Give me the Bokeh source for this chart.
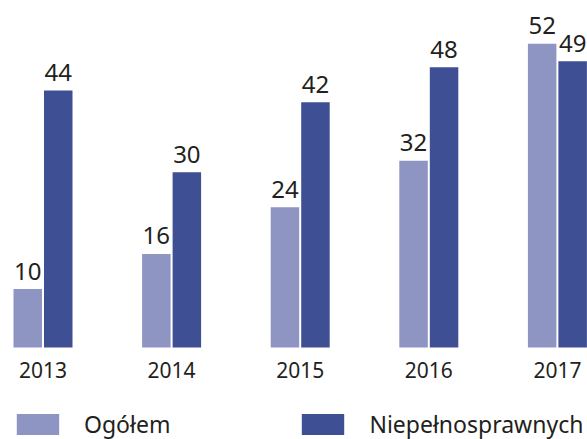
from bokeh.plotting import figure
from bokeh.models import ColumnDataSource, FixedTicker, Legend, LegendItem, Range1d
from bokeh.embed import file_html
from bokeh.resources import INLINE
from bokeh.core.properties import value

years = ["2013", "2014", "2015", "2016", "2017"]
ogolem = [10, 16, 24, 32, 52]
niepelnosprawnych = [44, 30, 42, 48, 49]
series_names = ["Ogółem", "Niepełnosprawnych"]

LIGHT = "#8F95C3"
DARK = "#3F4F94"
TEXT = "#231F20"
FONT = "Noto Sans"

idx = list(range(len(years)))
off = 0.1186
bw = 0.2216
lab_pad = 3.1  # label gap above bar, in data units

src1 = ColumnDataSource(dict(x=[i - off for i in idx], top=ogolem,
                             ly=[v + lab_pad for v in ogolem], lab=[str(v) for v in ogolem]))
src2 = ColumnDataSource(dict(x=[i + off for i in idx], top=niepelnosprawnych,
                             ly=[v + lab_pad for v in niepelnosprawnych], lab=[str(v) for v in niepelnosprawnych]))

p = figure(width=587, height=439, output_backend="svg", toolbar_location=None,
           x_range=Range1d(-0.3305, 4.234), y_range=Range1d(-15.75, 59.42),
           min_border_left=0, min_border_right=0, min_border_top=0, min_border_bottom=0)
p.outline_line_color = None
p.background_fill_color = "white"
p.border_fill_color = "white"
p.grid.visible = False
p.yaxis.visible = False

r1 = p.vbar(x="x", top="top", width=bw, bottom=0, source=src1, fill_color=LIGHT, line_color=None)
r2 = p.vbar(x="x", top="top", width=bw, bottom=0, source=src2, fill_color=DARK, line_color=None)

for s in (src1, src2):
    p.text(x="x", y="ly", text="lab", source=s, text_align="center", text_baseline="alphabetic",
           text_font=value(FONT), text_font_size="24px", text_color=TEXT)

ax = p.xaxis[0]
ax.fixed_location = 0
ax.ticker = FixedTicker(ticks=idx)
ax.major_label_overrides = {i: y for i, y in zip(idx, years)}
ax.axis_line_color = None
ax.major_tick_line_color = None
ax.minor_tick_line_color = None
ax.major_tick_in = 0
ax.major_tick_out = 0
ax.major_label_standoff = 14
ax.major_label_text_font = FONT
ax.major_label_text_font_size = "21px"
ax.major_label_text_color = TEXT

legend = Legend(items=[LegendItem(label=series_names[0], renderers=[r1]),
                       LegendItem(label=series_names[1], renderers=[r2])],
                orientation="horizontal", location=(11, -1),
                glyph_width=53, glyph_height=26, label_standoff=20, spacing=126,
                padding=0, margin=0, border_line_color=None, background_fill_alpha=0,
                label_text_font=FONT, label_text_font_size="23px", label_text_color=TEXT)
p.add_layout(legend, "center")

open("out.html", "w").write(file_html(p, INLINE))
